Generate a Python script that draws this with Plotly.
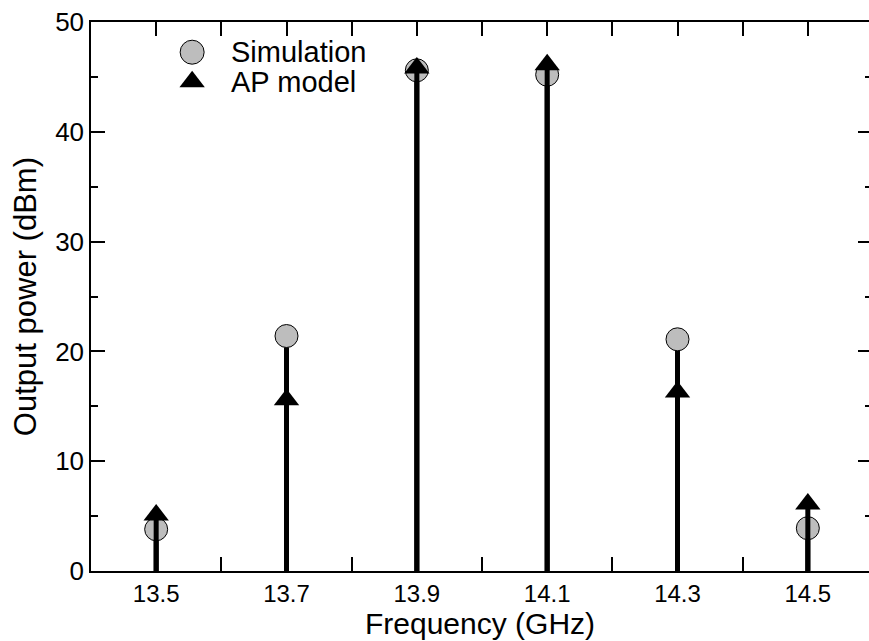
import plotly.graph_objects as go

# ---- data ----
freq = [13.5, 13.7, 13.9, 14.1, 14.3, 14.5]
sim_power = [3.8, 21.4, 45.6, 45.2, 21.1, 3.9]
ap_power = [5.1, 15.6, 45.8, 46.1, 16.3, 6.1]
series_names = ["Simulation", "AP model"]
x_ticks = [13.5, 13.7, 13.9, 14.1, 14.3, 14.5]
y_ticks = [0, 10, 20, 30, 40, 50]
x_title = "Frequency (GHz)"
y_title = "Output power (dBm)"

FONT = "Liberation Sans, Arial, Helvetica, sans-serif"
W, H = 869, 641
ML, MR, MT, MB = 91, 0, 22, 70
SIM_FILL = "#bdbdbd"


def stems(xs, ys):
    sx, sy = [], []
    for x, y in zip(xs, ys):
        sx += [x, x, None]
        sy += [0, y, None]
    return sx, sy


fig = go.Figure()

sx, sy = stems(freq, sim_power)
fig.add_trace(go.Scatter(x=sx, y=sy, mode="lines", line=dict(color="black", width=5),
                         showlegend=False, hoverinfo="skip"))
fig.add_trace(go.Scatter(x=freq, y=sim_power, mode="markers", name=series_names[0],
                         marker=dict(symbol="circle", size=23, color=SIM_FILL,
                                     line=dict(color="black", width=1)),
                         showlegend=False))
ax_, ay_ = stems(freq, ap_power)
fig.add_trace(go.Scatter(x=ax_, y=ay_, mode="lines", line=dict(color="black", width=5),
                         showlegend=False, hoverinfo="skip"))
fig.add_trace(go.Scatter(x=freq, y=ap_power, mode="markers", name=series_names[1],
                         marker=dict(symbol="triangle-up", size=22, color="black",
                                     line=dict(color="black", width=0)),
                         showlegend=False))

# invisible trace to make right-side tick axis render
fig.add_trace(go.Scatter(x=[freq[0]], y=[0], yaxis="y2", mode="markers",
                         marker=dict(opacity=0), showlegend=False, hoverinfo="skip"))

# manual legend on hidden overlay axes (0..1 space)
leg_x = 0.130
leg_y = [0.945, 0.891]
fig.add_trace(go.Scatter(x=[leg_x], y=[leg_y[0]], xaxis="x2", yaxis="y3", mode="markers",
                         marker=dict(symbol="circle", size=24, color=SIM_FILL,
                                     line=dict(color="black", width=1)),
                         showlegend=False, hoverinfo="skip"))
fig.add_trace(go.Scatter(x=[leg_x], y=[leg_y[1]], xaxis="x2", yaxis="y3", mode="markers",
                         marker=dict(symbol="triangle-up", size=22, color="black"),
                         showlegend=False, hoverinfo="skip"))
for name, yy in zip(series_names, leg_y):
    fig.add_annotation(x=0.177, y=yy, xref="paper", yref="paper", text=name,
                       showarrow=False, xanchor="left", yanchor="middle",
                       font=dict(family=FONT, size=29, color="black"))

# axis titles as annotations for exact placement
fig.add_annotation(x=0.5, y=-0.0965, xref="paper", yref="paper", text=x_title,
                   showarrow=False, xanchor="center", yanchor="middle",
                   font=dict(family=FONT, size=30, color="black"))
fig.add_annotation(x=-0.084, y=0.5, xref="paper", yref="paper", text=y_title,
                   showarrow=False, xanchor="center", yanchor="middle", textangle=-90,
                   font=dict(family=FONT, size=31, color="black"))

# x range: right border of the original frame falls just outside the image
px_per_ghz = (873 - 91) / 1.2
x_max = 13.4 + (W - ML) / px_per_ghz

fig.update_layout(
    width=W, height=H,
    margin=dict(l=ML, r=MR, t=MT, b=MB, pad=0),
    paper_bgcolor="white", plot_bgcolor="white",
    font=dict(family=FONT, color="black"),
    xaxis=dict(range=[13.4, x_max], tickvals=x_ticks, ticktext=[f"{v:.1f}" for v in x_ticks],
               ticks="inside", ticklen=14, tickwidth=1.5, tickcolor="black",
               minor=dict(ticks="inside", ticklen=7, tickwidth=1.5, dtick=0.1, tick0=13.4,
                          tickcolor="black", showgrid=False),
               showline=True, linewidth=2, linecolor="black", mirror="allticks",
               showgrid=False, zeroline=False, tickfont=dict(size=24)),
    yaxis=dict(range=[0, 50], tickvals=y_ticks, ticks="inside", ticklen=14, tickwidth=1.5,
               tickcolor="black",
               minor=dict(ticks="inside", ticklen=7, tickwidth=1.5, dtick=5, tickcolor="black",
                          showgrid=False),
               showline=True, linewidth=1.5, linecolor="black", mirror=False,
               showgrid=False, zeroline=False, tickfont=dict(size=26)),
    yaxis2=dict(range=[0, 50], overlaying="y", side="right", anchor="x",
                tickvals=y_ticks, ticks="inside", ticklen=11, tickwidth=1.5, tickcolor="black",
                minor=dict(ticks="inside", ticklen=4, tickwidth=1.5, dtick=5, tickcolor="black",
                           showgrid=False),
                showticklabels=False, showline=False, showgrid=False, zeroline=False),
    xaxis2=dict(range=[0, 1], overlaying="x", anchor="y3", visible=False),
    yaxis3=dict(range=[0, 1], overlaying="y", anchor="x2", visible=False),
)

fig.write_html("out.html", config={"displayModeBar": False},
               post_script="document.body.style.margin='0';document.body.style.overflow='hidden';")
